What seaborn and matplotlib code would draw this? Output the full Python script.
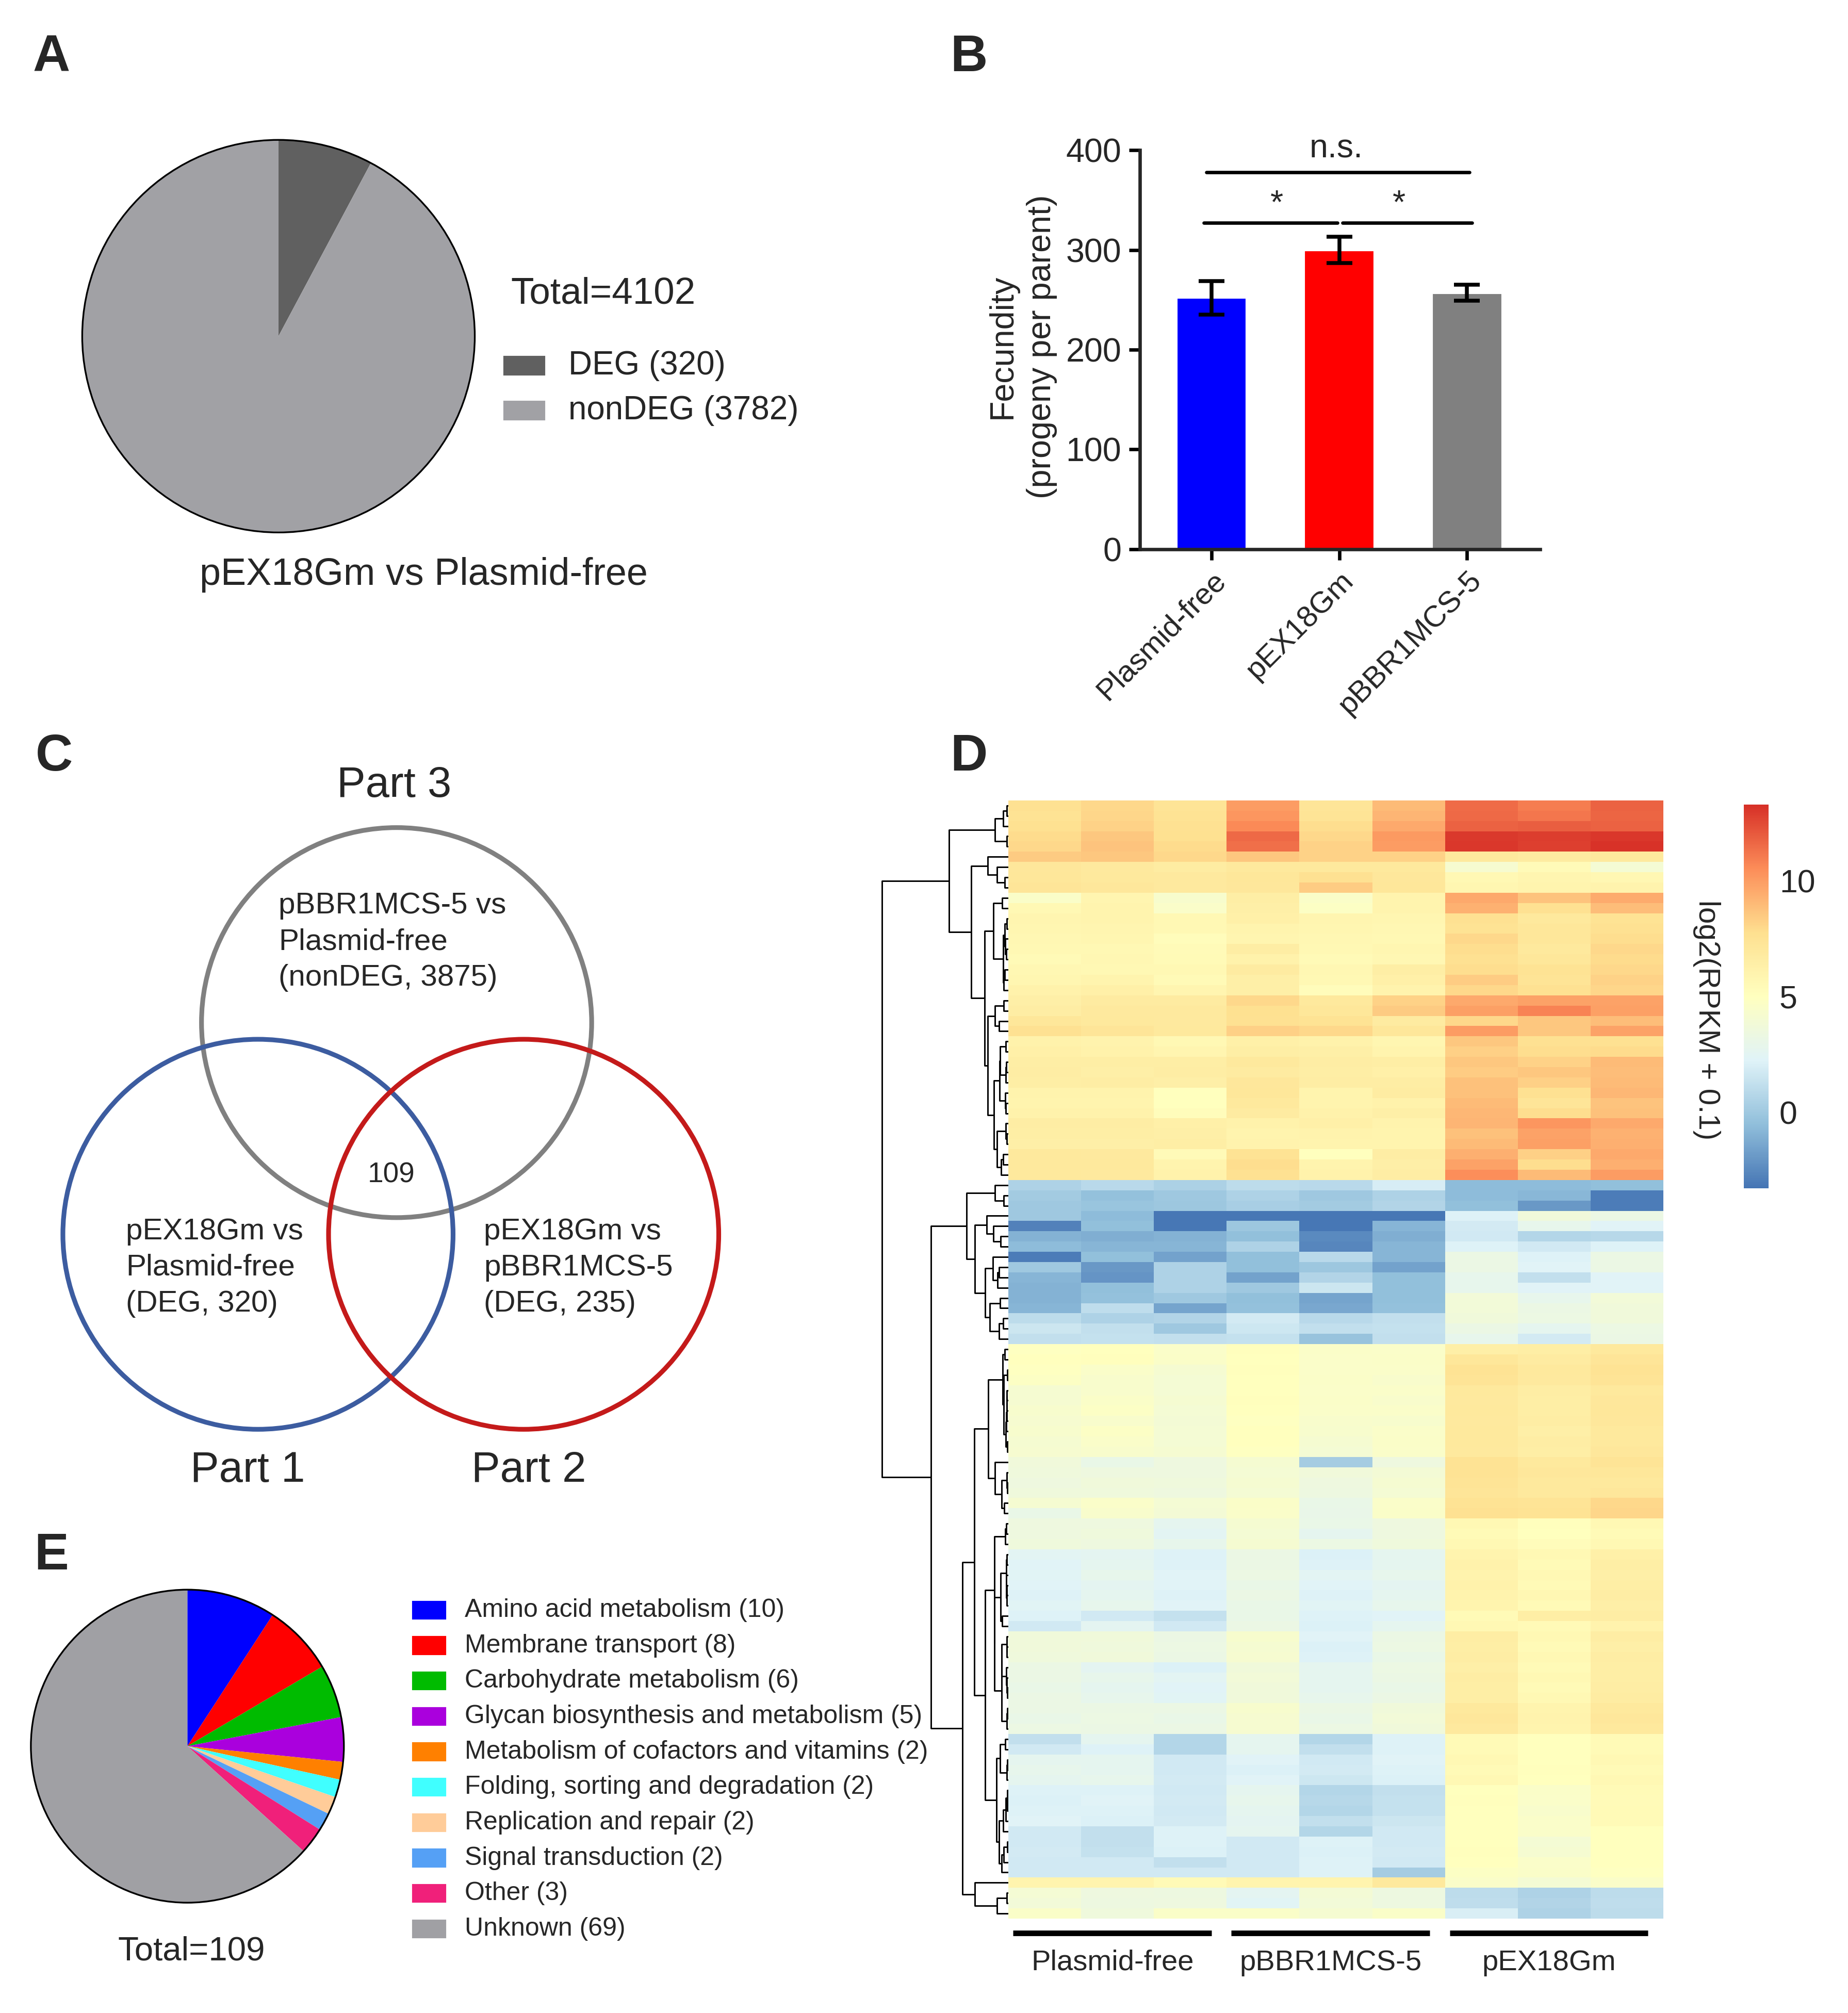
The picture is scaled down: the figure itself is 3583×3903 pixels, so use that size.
import numpy as np
import pandas as pd
import seaborn as sns
import matplotlib.pyplot as plt
from matplotlib.patches import Rectangle, Circle
from matplotlib.colors import LinearSegmentedColormap

# ---- data ----
# A: DEG pie
deg_labels = ['DEG (320)', 'nonDEG (3782)']
deg_counts = [320, 3782]
deg_colors = ['#606060', '#a1a1a5']

# B: fecundity bars (mean, sem)
groups = ['Plasmid-free', 'pEX18Gm', 'pBBR1MCS-5']
fecundity = [252, 300, 257]
fecundity_sem = [17, 13, 8]
bar_colors = ['#0000ff', '#ff0000', '#808080']

# E: KEGG categories of the 109 genes
kegg_labels = ['Amino acid metabolism (10)', 'Membrane transport (8)', 'Carbohydrate metabolism (6)',
               'Glycan biosynthesis and metabolism (5)', 'Metabolism of cofactors and vitamins (2)',
               'Folding, sorting and degradation (2)', 'Replication and repair (2)',
               'Signal transduction (2)', 'Other (3)', 'Unknown (69)']
kegg_counts = [10, 8, 6, 5, 2, 2, 2, 2, 3, 69]
kegg_colors = ['#0000ff', '#ff0000', '#00bb00', '#aa00dd', '#ff8000', '#40ffff',
               '#ffcc99', '#55a0f5', '#f0207a', '#a0a0a4']

# D: heatmap log2(RPKM + 0.1), columns = 3 replicates per strain
hm_groups = ['Plasmid-free', 'pBBR1MCS-5', 'pEX18Gm']
hm_columns = ['PF1', 'PF2', 'PF3', 'PB1', 'PB2', 'PB3', 'EX1', 'EX2', 'EX3']
hm_rows = [
    [7.6, 8.0, 7.4, 10.0, 7.3, 9.0, 11.5, 11.0, 11.8],
    [7.5, 8.1, 7.5, 10.2, 7.4, 9.2, 11.6, 11.2, 11.7],
    [7.7, 8.2, 7.6, 10.6, 7.8, 9.6, 11.8, 11.9, 11.8],
    [7.9, 8.6, 7.7, 11.6, 8.0, 10.1, 13.0, 12.9, 13.1],
    [8.0, 8.7, 7.9, 11.4, 8.2, 10.0, 13.1, 12.8, 13.2],
    [8.5, 8.6, 8.0, 8.6, 8.2, 8.2, 7.0, 6.8, 7.0],
    [7.1, 6.9, 6.7, 7.0, 7.0, 7.0, 4.2, 5.4, 4.0],
    [7.2, 7.0, 6.9, 7.2, 7.6, 7.1, 5.6, 5.9, 5.7],
    [7.3, 7.1, 6.9, 7.1, 8.4, 7.2, 5.8, 6.0, 6.1],
    [4.6, 5.9, 4.3, 6.5, 4.6, 6.0, 9.6, 8.7, 9.5],
    [5.6, 6.0, 4.5, 6.4, 4.8, 6.0, 9.3, 7.6, 8.9],
    [5.9, 6.0, 5.6, 6.3, 5.9, 5.8, 7.6, 7.0, 7.5],
    [5.8, 5.9, 5.6, 6.0, 5.8, 5.7, 7.5, 7.2, 7.6],
    [5.7, 5.8, 5.2, 5.9, 5.7, 5.6, 8.0, 7.2, 7.8],
    [5.6, 5.6, 5.4, 6.6, 5.6, 5.8, 7.8, 7.0, 8.0],
    [5.5, 5.7, 5.5, 6.2, 5.5, 5.7, 7.6, 7.2, 7.9],
    [5.7, 5.6, 5.6, 6.8, 5.7, 6.5, 7.8, 7.5, 8.0],
    [5.8, 6.0, 5.5, 6.4, 5.6, 6.3, 8.4, 7.4, 8.2],
    [6.2, 6.3, 5.9, 6.4, 5.2, 6.1, 8.0, 7.6, 8.1],
    [6.4, 6.8, 6.8, 8.0, 7.0, 8.2, 9.6, 9.8, 9.8],
    [6.6, 6.9, 6.9, 7.7, 7.2, 8.5, 9.9, 10.8, 9.9],
    [7.2, 7.0, 6.9, 7.6, 7.5, 6.8, 8.0, 8.6, 8.9],
    [7.6, 7.3, 7.0, 8.3, 8.0, 7.2, 10.0, 8.6, 9.8],
    [6.2, 6.1, 5.6, 6.3, 6.2, 5.8, 8.6, 7.6, 7.6],
    [6.3, 6.2, 5.9, 6.5, 6.4, 6.0, 8.3, 7.8, 7.9],
    [6.5, 6.5, 6.5, 7.0, 6.6, 6.5, 8.6, 8.2, 9.0],
    [6.6, 6.4, 6.6, 6.8, 6.5, 6.3, 8.4, 8.6, 8.9],
    [6.5, 6.6, 6.4, 7.1, 6.6, 6.6, 8.8, 8.3, 9.0],
    [6.1, 6.1, 5.0, 7.2, 6.0, 6.7, 8.8, 7.6, 9.1],
    [6.0, 6.0, 5.0, 7.0, 6.0, 6.2, 9.0, 7.3, 8.7],
    [6.2, 6.2, 5.2, 6.8, 6.2, 6.4, 9.1, 7.8, 8.8],
    [6.6, 6.6, 6.3, 6.2, 6.3, 6.1, 9.2, 10.2, 9.6],
    [6.5, 6.5, 6.4, 6.0, 6.1, 6.0, 8.8, 9.8, 9.3],
    [6.4, 6.4, 6.5, 6.1, 6.0, 6.0, 9.0, 9.9, 9.4],
    [7.0, 6.9, 5.4, 7.5, 5.0, 6.6, 9.4, 8.3, 9.6],
    [7.0, 7.0, 6.0, 7.8, 6.0, 6.4, 9.8, 7.8, 9.4],
    [7.0, 6.9, 6.2, 7.6, 6.2, 6.6, 10.5, 9.0, 10.0],
    [0.5, 0.9, 0.4, 1.0, 0.9, 1.9, -0.6, -0.6, -0.5],
    [0.1, -0.4, 0.0, 0.5, 0.0, 0.5, -0.6, -0.8, -3.0],
    [0.0, -0.2, -0.1, 0.3, 0.1, 0.6, -0.5, -2.0, -3.0],
    [0.0, -0.6, -3.2, -3.2, -3.2, -3.2, 2.2, 3.7, 3.2],
    [-2.8, -0.5, -3.2, -0.1, -3.2, -0.9, 1.8, 2.8, 2.3],
    [-1.0, -1.1, -1.0, -0.5, -2.5, -1.1, 1.7, 0.7, 0.8],
    [-0.6, -0.9, -0.9, 0.5, -2.6, -0.9, 2.2, 1.7, 2.2],
    [-3.0, -0.5, -1.6, -0.5, 0.9, -0.9, 3.2, 2.2, 3.2],
    [0.0, -2.0, 0.5, -0.5, -0.1, -1.6, 3.2, 2.3, 3.2],
    [-0.9, -2.1, 0.5, -1.6, 0.6, -0.5, 2.8, 1.2, 2.3],
    [-1.0, -0.5, 0.5, 0.0, 1.5, -0.5, 2.8, 2.3, 2.3],
    [-1.0, -0.4, 0.0, -0.5, -1.5, -0.5, 3.8, 2.8, 3.8],
    [-0.9, 1.1, -1.5, -0.4, -1.4, -0.4, 3.8, 3.2, 3.7],
    [1.0, 0.5, 0.6, 1.8, 0.9, 1.2, 3.7, 3.3, 3.7],
    [1.5, 1.2, 0.0, 1.6, 1.2, 1.3, 3.2, 2.7, 3.3],
    [1.2, 1.3, 1.2, 1.3, -0.3, 1.2, 2.8, 1.8, 3.2],
    [4.9, 5.0, 4.5, 5.1, 4.6, 4.5, 6.4, 6.5, 7.0],
    [5.0, 5.1, 4.6, 5.0, 4.5, 4.6, 7.2, 6.8, 7.3],
    [4.9, 4.5, 4.1, 5.1, 4.5, 4.5, 7.5, 7.0, 7.5],
    [4.8, 4.4, 4.0, 5.0, 4.6, 4.4, 7.4, 6.9, 7.4],
    [4.1, 4.4, 4.0, 5.0, 4.5, 4.5, 7.0, 6.6, 7.0],
    [4.1, 4.6, 4.1, 5.1, 4.6, 4.4, 6.9, 6.5, 7.1],
    [4.3, 4.7, 4.0, 5.0, 4.5, 4.5, 7.0, 6.5, 7.2],
    [4.2, 4.4, 3.9, 4.9, 4.4, 4.3, 6.9, 6.6, 7.1],
    [4.3, 4.7, 4.0, 5.0, 4.3, 4.5, 7.0, 6.4, 7.0],
    [4.1, 4.5, 4.0, 5.0, 4.1, 4.6, 7.0, 6.6, 7.0],
    [4.2, 4.4, 4.1, 4.9, 4.0, 4.5, 6.9, 6.5, 7.1],
    [3.7, 3.1, 3.5, 4.1, 0.2, 3.5, 7.5, 7.0, 7.4],
    [3.6, 3.5, 3.5, 4.0, 3.7, 3.9, 7.5, 7.1, 7.2],
    [3.5, 3.7, 3.6, 4.1, 3.5, 4.1, 7.4, 7.0, 7.0],
    [3.6, 3.6, 3.5, 4.0, 3.4, 4.0, 7.3, 7.0, 7.1],
    [4.1, 4.5, 4.0, 4.6, 3.1, 4.5, 7.5, 7.4, 8.0],
    [3.1, 4.4, 3.9, 4.5, 3.0, 4.6, 7.6, 7.5, 8.1],
    [3.5, 3.5, 2.7, 4.1, 3.1, 3.5, 5.6, 5.1, 5.6],
    [3.5, 3.6, 2.5, 4.0, 2.7, 3.5, 5.5, 5.0, 5.5],
    [3.6, 3.5, 2.9, 4.1, 3.3, 3.6, 5.6, 5.2, 5.6],
    [2.5, 2.6, 2.2, 3.2, 2.1, 2.7, 6.0, 5.6, 6.3],
    [2.3, 2.7, 2.2, 3.2, 2.2, 2.7, 6.2, 5.5, 6.5],
    [2.4, 2.9, 2.3, 3.3, 2.5, 2.8, 6.1, 5.6, 6.4],
    [2.3, 2.6, 2.3, 3.1, 2.3, 2.6, 6.2, 5.5, 6.5],
    [2.2, 2.7, 2.2, 3.2, 2.2, 2.7, 6.1, 5.7, 6.6],
    [2.4, 2.8, 2.3, 3.1, 2.4, 2.8, 6.0, 5.5, 6.4],
    [2.2, 1.7, 1.3, 3.1, 2.2, 2.3, 5.5, 6.5, 6.6],
    [1.7, 2.6, 1.7, 3.2, 2.1, 2.7, 5.6, 5.5, 6.1],
    [3.7, 3.7, 3.2, 4.3, 2.3, 3.2, 6.6, 5.6, 6.6],
    [3.7, 3.6, 3.3, 4.1, 2.1, 3.3, 6.5, 5.5, 6.4],
    [3.6, 3.7, 3.2, 4.2, 2.2, 3.1, 6.6, 5.6, 6.6],
    [3.2, 2.6, 2.1, 3.7, 2.7, 3.3, 6.4, 5.5, 6.5],
    [3.2, 2.9, 2.5, 3.8, 2.7, 3.2, 6.6, 5.6, 6.5],
    [3.1, 2.7, 2.3, 3.7, 2.7, 3.1, 6.5, 5.5, 6.6],
    [3.2, 2.8, 2.4, 3.7, 2.8, 3.2, 6.5, 5.6, 6.7],
    [3.2, 3.2, 3.2, 4.3, 3.2, 3.7, 7.0, 6.0, 7.0],
    [3.1, 3.3, 3.1, 4.2, 3.1, 3.8, 7.1, 6.1, 7.1],
    [3.3, 3.2, 3.2, 4.2, 3.3, 3.7, 6.9, 6.0, 7.0],
    [1.2, 2.7, 0.7, 2.7, 0.7, 2.2, 5.5, 5.0, 5.5],
    [1.7, 2.2, 0.7, 2.7, 1.2, 2.2, 5.5, 5.0, 5.5],
    [2.7, 2.7, 1.7, 2.3, 1.7, 2.3, 5.6, 5.0, 5.6],
    [2.8, 2.7, 1.7, 2.1, 1.8, 2.2, 5.5, 5.1, 5.5],
    [2.7, 2.8, 1.8, 2.3, 1.6, 2.1, 5.6, 5.0, 5.6],
    [2.2, 2.2, 1.7, 2.7, 0.7, 1.2, 5.0, 4.6, 5.5],
    [2.1, 2.3, 1.8, 2.8, 0.8, 1.3, 5.1, 4.5, 5.4],
    [2.2, 2.2, 1.7, 2.7, 0.7, 1.3, 5.0, 4.4, 5.5],
    [2.3, 2.1, 1.8, 2.6, 1.2, 1.5, 5.0, 4.5, 5.5],
    [1.7, 1.2, 2.2, 2.7, 0.7, 1.7, 5.0, 4.5, 5.0],
    [1.7, 1.2, 2.2, 1.7, 2.2, 1.7, 5.0, 4.0, 5.0],
    [1.8, 1.3, 2.1, 1.7, 2.1, 1.8, 5.1, 4.1, 5.0],
    [1.7, 1.7, 1.2, 1.7, 2.2, 1.7, 5.0, 4.5, 5.0],
    [1.7, 1.7, 1.7, 1.7, 2.2, 0.2, 4.8, 4.6, 4.9],
    [6.0, 6.0, 5.5, 6.0, 6.0, 7.0, 4.5, 4.0, 4.5],
    [4.0, 3.5, 3.4, 2.6, 3.9, 3.4, 1.0, 0.5, 1.0],
    [3.8, 3.4, 3.5, 2.4, 3.8, 3.4, 1.1, 0.6, 1.1],
    [4.6, 3.6, 4.6, 4.6, 4.1, 4.6, 2.0, 0.5, 1.0],
]
hm_colors = ['#4575B4', '#91BFDB', '#E0F3F8', '#FFFFBF', '#FEE090', '#FC8D59', '#D73027']


def ordered_linkage(mat):
    # complete-linkage clustering that only joins neighbouring clusters,
    # so the drawn tree keeps the row order of the heatmap
    dist = np.sqrt(((mat[:, None, :] - mat[None, :, :]) ** 2).sum(-1))
    nodes = [([i], i + 0.5, 0.0) for i in range(len(mat))]
    links = []
    while len(nodes) > 1:
        best_h, best_k = None, None
        for k in range(len(nodes) - 1):
            h = dist[np.ix_(nodes[k][0], nodes[k + 1][0])].max()
            if best_h is None or h < best_h:
                best_h, best_k = h, k
        left, right = nodes[best_k], nodes[best_k + 1]
        links.append((left[1], left[2], right[1], right[2], best_h))
        nodes[best_k:best_k + 2] = [(left[0] + right[0], (left[1] + right[1]) / 2, best_h)]
    return links


sns.set_theme(style='ticks')
plt.rcParams['font.family'] = ['Liberation Sans', 'DejaVu Sans']
plt.rcParams['axes.linewidth'] = 1.5

fig = plt.figure(figsize=(3583 / 300, 3903 / 300), dpi=300)
fig.patch.set_facecolor('white')

# panel letters
for letter, (px, py) in zip('ABCDE', [(0.0278, 0.9713), (0.5243, 0.9713), (0.0292, 0.624),
                                      (0.5243, 0.624), (0.0278, 0.2269)]):
    fig.text(px, py, letter, fontsize=24, fontweight='bold', ha='center', va='center',
             family=['Liberation Sans Narrow', 'Liberation Sans'])

# ---- A ----
ax_a = fig.add_axes([0.0396, 0.731, 0.2222, 0.204])
ax_a.pie(deg_counts, colors=deg_colors, startangle=90, counterclock=False,
         wedgeprops={'linewidth': 0})
ax_a.add_patch(Circle((0, 0), 1, fill=False, ec='black', lw=0.8))
ax_a.set_xlim(-1.046, 1.046)
ax_a.set_ylim(-1.046, 1.046)
ax_a.set_aspect('equal')
ax_a.axis('off')
fig.text(0.2764, 0.854, 'Total=4102', fontsize=17.5, va='center', ha='left')
for i, (lab, col) in enumerate(zip(deg_labels, deg_colors)):
    yb = [0.8139, 0.7916][i]
    fig.patches.append(Rectangle((0.2729, yb), 0.02153, 0.00892, transform=fig.transFigure,
                                 color=col, figure=fig))
    fig.text(0.3076, yb + 0.00446, lab, fontsize=15.3, va='center', ha='left')
fig.text(0.2292, 0.7145, 'pEX18Gm vs Plasmid-free', fontsize=17.7, ha='center', va='center')

# ---- B ----
ax_b = fig.add_axes([0.6167, 0.7272, 0.2167, 0.1982])
bdf = pd.DataFrame({'strain': groups, 'fecundity': fecundity})
sns.barplot(data=bdf, x='strain', y='fecundity', hue='strain', palette=bar_colors,
            order=groups, width=0.553, legend=False, ax=ax_b, saturation=1)
ax_b.errorbar(range(len(groups)), fecundity, yerr=fecundity_sem, fmt='none', ecolor='black',
              elinewidth=1.8, capsize=6, capthick=1.8, zorder=5)
ax_b.set_xlim(-0.563, 2.573)
ax_b.set_ylim(0, 400)
ax_b.set_yticks([0, 100, 200, 300, 400])
sns.despine(ax=ax_b)
ax_b.spines['left'].set_linewidth(1.6)
ax_b.spines['bottom'].set_linewidth(1.6)
ax_b.tick_params(axis='both', width=1.6, length=5, labelsize=15.5, color='black')
ax_b.tick_params(axis='x', labelsize=14, pad=3)
plt.setp(ax_b.get_xticklabels(), rotation=45, ha='right', rotation_mode='anchor')
ax_b.set_xlabel('')
ax_b.set_ylabel('Fecundity\n(progeny per parent)', fontsize=15.5, linespacing=1.35)
ax_b.yaxis.set_label_coords(-0.205, 0.508)
ax_b.plot([-0.04, 2.02], [378, 378], color='black', lw=1.6, clip_on=False)
ax_b.text(0.975, 386, 'n.s.', ha='center', va='bottom', fontsize=15.5)
ax_b.plot([-0.06, 0.985], [327, 327], color='black', lw=1.6, clip_on=False)
ax_b.plot([1.025, 2.04], [327, 327], color='black', lw=1.6, clip_on=False)
ax_b.text(0.51, 330, '*', ha='center', va='bottom', fontsize=15.5)
ax_b.text(1.47, 330, '*', ha='center', va='bottom', fontsize=15.5)

# ---- C: Venn ----
ax_c = fig.add_axes([0.0, 0.2479, 0.4167, 0.3824])
ax_c.set_xlim(0, 600)
ax_c.set_ylim(1180, 580)
ax_c.axis('off')
for (cx, cy), col in zip([(309, 797), (201, 962), (408, 962)], ['#808080', '#3c5ca0', '#c41a1a']):
    ax_c.add_patch(Circle((cx, cy), 152, fill=False, ec=col, lw=2.2))
ax_c.text(307, 612, 'Part 3', fontsize=20, ha='center', va='center')
ax_c.text(193, 1146, 'Part 1', fontsize=20, ha='center', va='center')
ax_c.text(412, 1146, 'Part 2', fontsize=20, ha='center', va='center')
ax_c.text(217, 734, 'pBBR1MCS-5 vs\nPlasmid-free\n(nonDEG, 3875)', fontsize=14, ha='left',
          va='center', linespacing=1.38)
ax_c.text(98, 988, 'pEX18Gm vs\nPlasmid-free\n(DEG, 320)', fontsize=14, ha='left',
          va='center', linespacing=1.38)
ax_c.text(377, 988, 'pEX18Gm vs\npBBR1MCS-5\n(DEG, 235)', fontsize=14, ha='left',
          va='center', linespacing=1.38)
ax_c.text(305, 916, '109', fontsize=13.2, ha='center', va='center')

# ---- D: heatmap + dendrogram ----
hm = pd.DataFrame(hm_rows, columns=hm_columns)
cmap = LinearSegmentedColormap.from_list('rdylbu7', hm_colors)
ax_hm = fig.add_axes([0.5456, 0.04689, 0.3545, 0.5555])
ax_cb = fig.add_axes([0.9436, 0.4097, 0.0134, 0.1906])
sns.heatmap(hm, ax=ax_hm, cmap=cmap, vmin=-3.3, vmax=13.3, cbar_ax=ax_cb,
            xticklabels=False, yticklabels=False, cbar_kws={'ticks': [0, 5, 10]})
cbar = ax_hm.collections[0].colorbar
cbar.outline.set_visible(False)
cbar.ax.tick_params(length=0, labelsize=15, pad=5)
fig.text(0.9235, 0.4932, 'log2(RPKM + 0.1)', rotation=270, fontsize=14, ha='center', va='center')

n_rows = len(hm_rows)
for g, name in enumerate(hm_groups):
    ax_hm.plot([3 * g + 0.064, 3 * g + 2.79], [n_rows + 1.4, n_rows + 1.4], color='black',
               lw=2.6, clip_on=False, solid_capstyle='butt')
    ax_hm.text(3 * g + 1.43, n_rows + 4.3, name, fontsize=13.5, ha='center', va='center')

ax_dg = fig.add_axes([0.4767, 0.04689, 0.0689, 0.5555])
links = ordered_linkage(np.array(hm_rows))
for y1, h1, y2, h2, h in links:
    ax_dg.plot([h1, h, h, h2], [y1, y1, y2, y2], color='black', lw=0.7, solid_capstyle='butt')
max_h = max(l[4] for l in links)
ax_dg.set_xlim(max_h * 1.01, 0)
ax_dg.set_ylim(n_rows, 0)
ax_dg.axis('off')

# ---- E ----
ax_e = fig.add_axes([0.0111, 0.0497, 0.1806, 0.1657])
ax_e.pie(kegg_counts, colors=kegg_colors, startangle=90, counterclock=False,
         wedgeprops={'linewidth': 0})
ax_e.add_patch(Circle((0, 0), 1, fill=False, ec='black', lw=0.8))
ax_e.set_xlim(-1.0656, 1.0656)
ax_e.set_ylim(-1.0656, 1.0656)
ax_e.set_aspect('equal')
ax_e.axis('off')
fig.text(0.1035, 0.0306, 'Total=109', fontsize=15.7, ha='center', va='center')
for i, (lab, col) in enumerate(zip(kegg_labels, kegg_colors)):
    yc = 1 - (1255 + 27.6 * i) / 1569
    fig.patches.append(Rectangle((0.2236, yc - 0.00415), 0.01736, 0.0083,
                                 transform=fig.transFigure, color=col, figure=fig))
    fig.text(0.2514, yc, lab, fontsize=12, ha='left', va='center')

fig.savefig('out.png', dpi=300)
